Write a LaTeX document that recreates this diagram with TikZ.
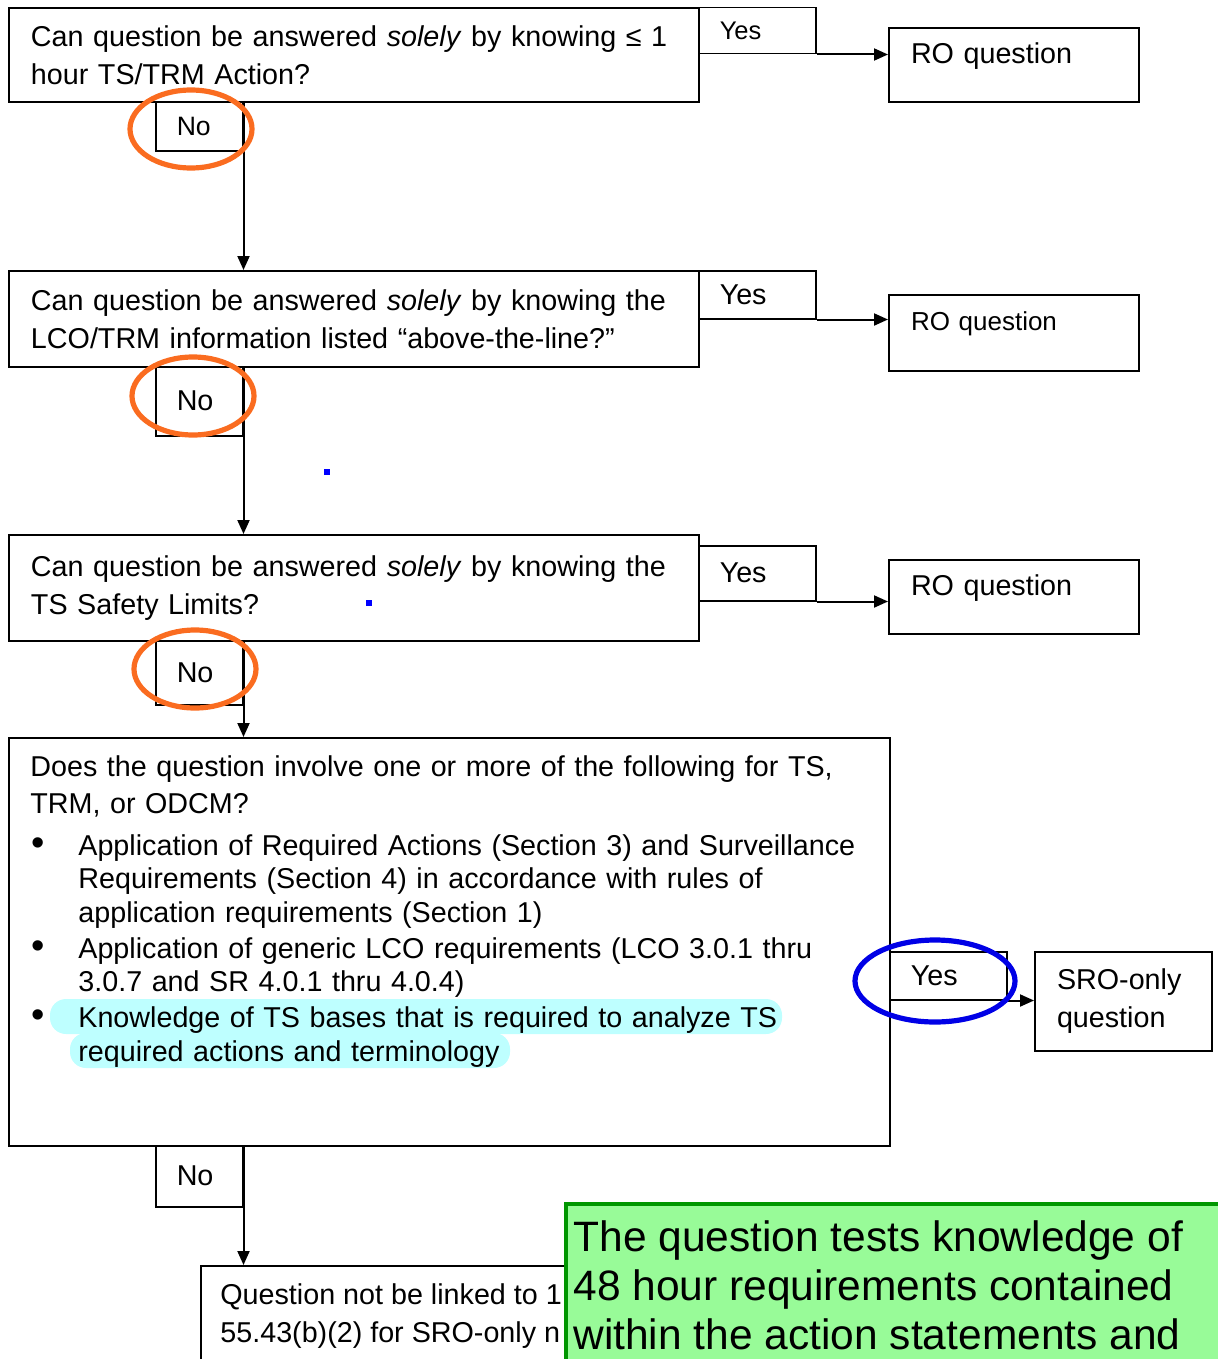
\documentclass[tikz,border=0pt]{standalone}
\usepackage{fontspec}
\setmainfont{Liberation Sans}
\usetikzlibrary{arrows.meta}

\definecolor{ringorange}{RGB}{250,108,32}
\definecolor{ringblue}{RGB}{0,0,230}
\definecolor{hilite}{RGB}{190,255,255}
\definecolor{notegreen}{RGB}{152,251,152}
\definecolor{noteedge}{RGB}{0,150,0}

% bullet paragraph, text kept on a 24pt indent
\newcommand{\bulletpar}[1]{\par{\leftskip=24pt\noindent
  \llap{\makebox[24pt][l]{\hspace{.5pt}\fontsize{19pt}{16.75pt}\selectfont\textbullet}}#1\par}}

\tikzset{
  txt/.style={font=\fontsize{14.35pt}{19pt}\selectfont},
  qbox/.style={txt, draw, line width=1pt, anchor=north west, align=left,
    inner xsep=11pt, text width=323pt},
  frame/.style={draw, line width=1pt, anchor=north west, inner sep=0pt},
  yesbox/.style={txt, draw, line width=.75pt, anchor=north west, align=left,
    inner xsep=10.5pt, text width=37.5pt},
  nobox/.style={txt, draw, line width=.75pt, anchor=north west, align=left,
    inner xsep=10.5pt, text width=22.5pt},
  robox/.style={txt, draw, line width=1pt, anchor=north west, align=left,
    inner xsep=11pt, text width=103pt, text depth=12pt},
  flow/.style={line width=1pt, -{Triangle[length=7pt,width=6pt]}},
  ring/.style={line width=2.6pt, draw=#1},
  small/.style={font=\fontsize{13pt}{17pt}\selectfont}
}

\begin{document}
\begin{tikzpicture}[x=.5pt,y=-.5pt]
  \useasboundingbox (0,0) rectangle (1217,1359);

  % the three first questions
  \node[qbox, minimum width=345pt, minimum height=47pt] (q1) at (8,7)
    {Can question be answered \textit{solely} by knowing ≤ 1\\hour TS/TRM Action?};
  \node[qbox, minimum width=345pt, minimum height=48pt] (q2) at (8,270)
    {Can question be answered \textit{solely} by knowing the\\LCO/TRM information listed “above-the-line?”};
  \node[qbox, minimum width=345pt, minimum height=53pt] (q3) at (8,534)
    {Can question be answered \textit{solely} by knowing the\\TS Safety Limits?};

  % yes branches
  \node[yesbox, font=\fontsize{12.75pt}{16pt}\selectfont, minimum height=23pt] (yes1) at (698,7) {Yes};
  \node[yesbox, minimum height=24pt] (yes2) at (698,270) {Yes};
  \node[yesbox, minimum height=27.5pt] (yes3) at (698,545) {Yes};
  \node[robox, minimum width=125pt, minimum height=37pt] (ro1) at (888,27) {RO question};
  \node[robox, small, minimum width=125pt, minimum height=38pt] (ro2) at (888,294) {RO question};
  \node[robox, minimum width=125pt, minimum height=37pt] (ro3) at (888,559) {RO question};
  \draw[flow] (yes1.south east) -- (yes1.south east -| ro1.west);
  \draw[flow] (yes2.south east) -- (yes2.south east -| ro2.west);
  \draw[flow] (yes3.south east) -- (yes3.south east -| ro3.west);

  % no branches
  \node[nobox, font=\fontsize{13.3pt}{17pt}\selectfont, minimum height=24.5pt] (no1) at (155,101) {No};
  \node[nobox, minimum height=34.5pt] (no2) at (155,366) {No};
  \node[nobox, minimum height=32pt] (no3) at (155,640) {No};

  % the list question
  \node[frame, minimum width=440.5pt, minimum height=204pt] (q4) at (8,737) {};
  \fill[hilite, rounded corners=8pt] (50,999) rectangle (782,1034);
  \fill[hilite, rounded corners=8pt] (70,1033) rectangle (510,1068);
  \node[anchor=north west, inner sep=0pt, text width=425pt,
        font=\fontsize{14.35pt}{18.5pt}\selectfont] (q4txt) at (30,755) {%
    \raggedright
    Does the question involve one or more of the following for TS,\newline
    TRM, or ODCM?\par
    \fontsize{14.35pt}{16.75pt}\selectfont\parskip=1.25pt
    \vspace{3pt}%
    \bulletpar{Application of Required Actions (Section 3) and Surveillance\newline
      Requirements (Section 4) in accordance with rules of\newline
      application requirements (Section 1)}
    \bulletpar{Application of generic LCO requirements (LCO 3.0.1 thru\newline
      3.0.7 and SR 4.0.1 thru 4.0.4)}
    \bulletpar{Knowledge of TS bases that is required to analyze TS\newline
      required actions and terminology}};

  \node[yesbox, minimum height=24pt] (yes4) at (889,951) {Yes};
  \node[txt, draw, line width=1pt, anchor=north west, align=left, inner xsep=11pt,
        text width=66.5pt, minimum height=49.5pt] (sro) at (1034,951) {SRO-only\\question};
  \draw[flow] (yes4.south east) -- (yes4.south east -| sro.west);

  \node[nobox, minimum height=30.5pt] (no4) at (155,1145) {No};
  \node[frame, minimum width=400pt, minimum height=100pt] (q5) at (200,1265) {};
  \node[txt, anchor=north west, inner sep=0pt, align=left] (q5txt) at (220,1283)
    {Question not be linked to 1\\55.43(b)(2) for SRO-only n};

  % downward connectors
  \draw[flow] (no1.north east) -- (no1.east |- q2.north);
  \draw[flow] (no2.north east) -- (no2.east |- q3.north);
  \draw[flow] (no3.north east) -- (no3.east |- q4.north);
  \draw[flow] (no4.north east) -- (no4.east |- q5.north);

  % markings
  \draw[ring=ringorange] (191,129) ellipse [x radius=61, y radius=39];
  \draw[ring=ringorange] (193,396) ellipse [x radius=61, y radius=39];
  \draw[ring=ringorange] (195,669) ellipse [x radius=61, y radius=39];
  \draw[ring=ringblue] (935,981) ellipse [x radius=80, y radius=41];
  \fill[blue] (324,469) rectangle (330,475);
  \fill[blue] (366,600) rectangle (372,606);

  % note
  \node[frame, draw=noteedge, fill=notegreen, line width=2pt,
        minimum width=330pt, minimum height=100pt] (note) at (564,1202) {};
  \node[anchor=north west, inner sep=0pt, align=left,
        font=\fontsize{21.25pt}{24.5pt}\selectfont] (notetxt) at (573,1220)
    {The question tests knowledge of\\48 hour requirements contained\\within the action statements and};
\end{tikzpicture}
\end{document}
